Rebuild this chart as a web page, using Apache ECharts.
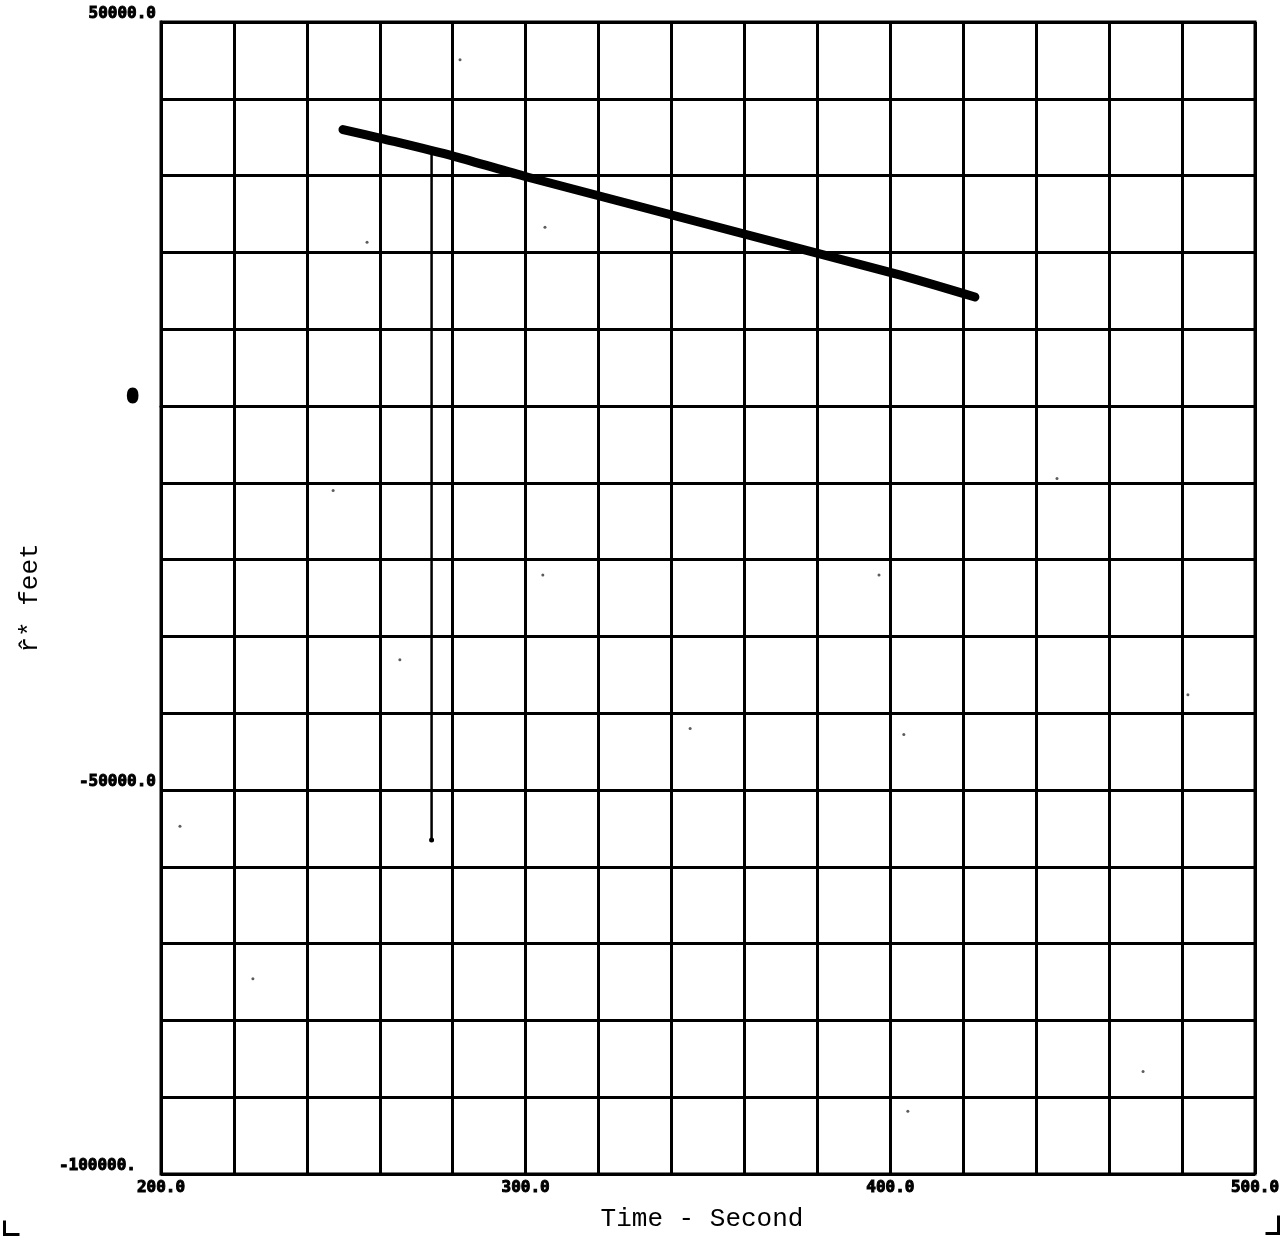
<!DOCTYPE html>
<html lang="en">
<head>
    <meta charset="UTF-8">
    <title>r* feet vs Time</title>
    <style>
        html, body { margin: 0; padding: 0; background: #fff; overflow: hidden; }
        #main { width: 1286px; height: 1237px; }
    </style>
</head>
<body>
    <div id="main"></div>
<script type="text/javascript" src="https://cdn.jsdelivr.net/npm/echarts@6/dist/echarts.min.js"></script>
<script type="text/javascript">
    // estimate track: [time s, r* ft]
    var trackData = [
        [249.9, 36000],
        [260.6, 34820],
        [280.6, 32480],
        [300.4, 29820],
        [400.7, 17300],
        [423.2, 14190]
    ];
    // single wild point dropping from the track
    var spikeData = [
        [274.2, 33200],
        [274.2, -56500]
    ];
    // stray specks on the sheet
    var speckData = [
        [345.1, -42000], [403.7, -42780], [205.2, -54720], [225.2, -74570],
        [469.3, -86640], [404.8, -91830], [481.6, -37590], [445.7, -9430],
        [396.9, -22020], [256.5, 21320], [305.3, 23270], [282.0, 45070],
        [247.2, -10990], [265.5, -33050], [304.7, -22020]
    ];
    var xTickLabels = [200, 300, 400, 500];
    var yTickLabels = { '50000': '50000.0', '0': '{z|0}', '-50000': '-50000.0', '-100000': '{b|-100000.}' };

    var myChart = echarts.init(document.getElementById('main'));

    var labelFont = 'DejaVu Sans Mono';
    var heavy = { textBorderColor: '#000', textBorderWidth: 1 };
    var option = {
        backgroundColor: '#fff',
        animation: false,
        grid: {
            left: 161, top: 22, width: 1094, height: 1160,
            show: true, borderColor: '#000', borderWidth: 3
        },
        xAxis: {
            type: 'value',
            min: 200, max: 500, interval: 20,
            name: 'Time - Second',
            nameLocation: 'middle',
            nameGap: 32,
            nameTextStyle: {
                fontFamily: 'Liberation Mono', fontSize: 26, color: '#000',
                padding: [0, 12, 0, 0]
            },
            axisLine: { lineStyle: { color: '#000', width: 3 } },
            axisTick: { show: false },
            splitLine: { lineStyle: { color: '#000', width: 3 } },
            axisLabel: {
                margin: 6,
                fontFamily: labelFont, fontWeight: 'bold', fontSize: 16, color: '#000',
                textBorderColor: heavy.textBorderColor, textBorderWidth: heavy.textBorderWidth,
                formatter: function (v) {
                    return xTickLabels.indexOf(v) >= 0 ? v.toFixed(1) : '';
                }
            }
        },
        yAxis: {
            type: 'value',
            min: -100000, max: 50000, interval: 10000,
            name: 'r\u0302* feet',
            nameLocation: 'middle',
            nameGap: 118,
            nameTextStyle: { fontFamily: 'Liberation Mono', fontSize: 26, color: '#000' },
            axisLine: { lineStyle: { color: '#000', width: 3 } },
            axisTick: { show: false },
            splitLine: { lineStyle: { color: '#000', width: 3 } },
            axisLabel: {
                margin: 5,
                verticalAlign: 'bottom',
                fontFamily: labelFont, fontWeight: 'bold', fontSize: 16, color: '#000',
                textBorderColor: heavy.textBorderColor, textBorderWidth: heavy.textBorderWidth,
                formatter: function (v) {
                    var s = yTickLabels[String(v)];
                    return s === undefined ? '' : s;
                },
                rich: {
                    z: {
                        fontFamily: labelFont, fontWeight: 'bold', fontSize: 18, color: '#000',
                        textBorderColor: '#000', textBorderWidth: 3, padding: [0, 18, 0, 0]
                    },
                    b: {
                        fontFamily: labelFont, fontWeight: 'bold', fontSize: 16, color: '#000',
                        textBorderColor: '#000', textBorderWidth: 1, padding: [0, 20, 0, 0]
                    }
                }
            }
        },
        series: [
            {
                name: 'track',
                type: 'line',
                data: trackData,
                symbol: 'none',
                smooth: 0.3,
                lineStyle: { color: '#000', width: 9, cap: 'round', join: 'round' },
                z: 5
            },
            {
                name: 'spike',
                type: 'line',
                data: spikeData,
                symbol: 'circle',
                symbolSize: function (val) { return val[1] < 0 ? 5 : 0; },
                itemStyle: { color: '#000' },
                lineStyle: { color: '#000', width: 2.5 },
                z: 4
            },
            {
                name: 'specks',
                type: 'scatter',
                data: speckData,
                symbolSize: 3,
                itemStyle: { color: '#333' },
                z: 3
            }
        ],
        graphic: [
            {
                type: 'polyline', left: 2, top: 1218,
                shape: { points: [[0, 0], [0, 14], [15, 14]] },
                style: { stroke: '#000', lineWidth: 3, fill: null }
            },
            {
                type: 'polyline', left: 1263, top: 1213,
                shape: { points: [[0, 18], [13, 18], [13, 0]] },
                style: { stroke: '#000', lineWidth: 3, fill: null }
            }
        ]
    };
    myChart.setOption(option);
</script>
</body>
</html>
